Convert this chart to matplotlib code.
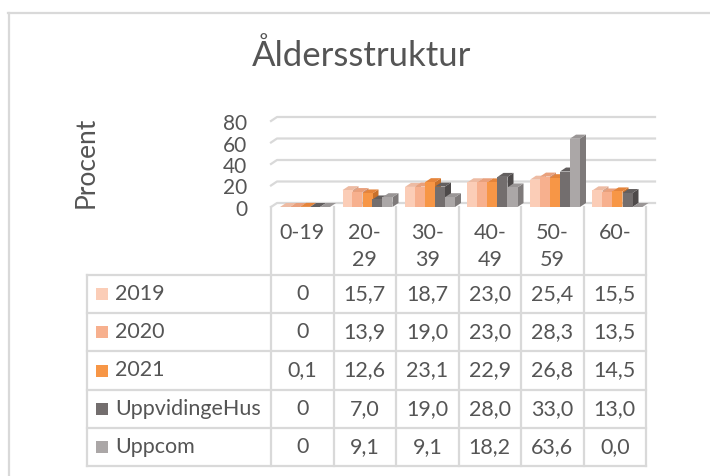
import numpy as np
import matplotlib.pyplot as plt
from matplotlib.patches import Polygon, Rectangle

# data
categories = ['0-19', '20-\n29', '30-\n39', '40-\n49', '50-\n59', '60-']
series = ['2019', '2020', '2021', 'UppvidingeHus', 'Uppcom']
v2019 = [0, 15.7, 18.7, 23.0, 25.4, 15.5]
v2020 = [0, 13.9, 19.0, 23.0, 28.3, 13.5]
v2021 = [0.1, 12.6, 23.1, 22.9, 26.8, 14.5]
vhus = [0, 7.0, 19.0, 28.0, 33.0, 13.0]
vuppcom = [0, 9.1, 9.1, 18.2, 63.6, 0.0]
labels = [['0', '15,7', '18,7', '23,0', '25,4', '15,5'],
          ['0', '13,9', '19,0', '23,0', '28,3', '13,5'],
          ['0,1', '12,6', '23,1', '22,9', '26,8', '14,5'],
          ['0', '7,0', '19,0', '28,0', '33,0', '13,0'],
          ['0', '9,1', '9,1', '18,2', '63,6', '0,0']]
yticks = [0, 20, 40, 60, 80]

colors = ['#FBCDB7', '#F7B08E', '#F79646', '#736E6E', '#ABA7A7']
sides = ['#D9A58C', '#D38C69', '#C8702A', '#4E4A4A', '#7E7A7A']
tops = ['#EDBBA3', '#E9A07C', '#E5843A', '#635F5F', '#9A9696']
values = [v2019, v2020, v2021, vhus, vuppcom]

plt.rcParams['font.family'] = ['Lato', 'DejaVu Sans']
txt = '#555555'
grid = '#D9D9D9'

W, H = 710, 476
fig = plt.figure(figsize=(W / 100, H / 100), dpi=100)

# pixel geometry
x0, cw = 271, 62.5          # first category column, column width
base, ppu = 207, 1.075      # front baseline px, px per unit
ddx_px, ddy_px = 6, 4       # depth offset
n = len(categories)

# overlay axes in pixel coordinates for frame and table
bg = fig.add_axes([0, 0, 1, 1])
bg.set_xlim(0, W)
bg.set_ylim(H, 0)
bg.axis('off')

bg.plot([8, W], [13, 13], color=grid, lw=1.6)
bg.plot([9, 9], [13, H], color=grid, lw=1.6)

bg.text(362, 56, 'Åldersstruktur', ha='center', va='center', fontsize=25, color=txt)
bg.text(86, 162, 'Procent', ha='center', va='center', rotation=90, fontsize=19, color=txt)

# chart axes
top_px = base - 80 * ppu
ax = fig.add_axes([x0 / W, 1 - base / H, n * cw / W, (base - top_px) / H])
ax.set_xlim(0, n)
ax.set_ylim(0, 80)
ax.axis('off')
ddx = ddx_px / cw
ddy = ddy_px / ppu

for t in yticks:
    ax.plot([0, ddx, n + ddx * 1.5], [t, t + ddy, t + ddy], color=grid, lw=1.6,
            clip_on=False, zorder=1)
    ax.text(-24 / cw, t - 3 / ppu, str(t), ha='right', va='center', fontsize=15,
            color=txt, clip_on=False)

bw = 10 / cw
off = 9 / cw
for i in range(n):
    for s in range(len(series)):
        v = values[s][i]
        xl = i + off + s * bw
        xr = xl + bw
        z = 2 + i * 10 + s
        ax.add_patch(Polygon([(xr, 0), (xr + ddx, ddy), (xr + ddx, v + ddy), (xr, v)],
                             closed=True, fc=sides[s], ec='none', zorder=z, clip_on=False))
        ax.add_patch(Polygon([(xl, v), (xl + ddx, v + ddy), (xr + ddx, v + ddy), (xr, v)],
                             closed=True, fc=tops[s], ec='none', zorder=z, clip_on=False))
        ax.bar(xl, v, width=bw, align='edge', color=colors[s], zorder=z + 0.5, clip_on=False)

# data table
row_h = 38.2
row0 = 275
lab_x = 87
xs = [x0 + cw * k for k in range(n + 1)]
ys = [row0 + row_h * k for k in range(len(series) + 1)]
for x in xs:
    bg.plot([x, x], [base, ys[-1]], color=grid, lw=1.6)
bg.plot([lab_x, lab_x], [row0, ys[-1]], color=grid, lw=1.6)
for y in ys:
    bg.plot([lab_x, xs[-1]], [y, y], color=grid, lw=1.6)

for k, c in enumerate(categories):
    bg.text(xs[k] + cw / 2, 223, c, ha='center', va='top', fontsize=15.5, color=txt,
            linespacing=1.45)

for s, name in enumerate(series):
    yc = ys[s] + row_h / 2
    bg.add_patch(Rectangle((96, yc - 6), 12, 12, fc=colors[s], ec='none'))
    bg.text(115, yc, name, ha='left', va='center', fontsize=15.5, color=txt)
    for k in range(n):
        bg.text(xs[k] + cw / 2, yc, labels[s][k], ha='center', va='center',
                fontsize=15.5, color=txt)

fig.savefig('out.png', dpi=100)
